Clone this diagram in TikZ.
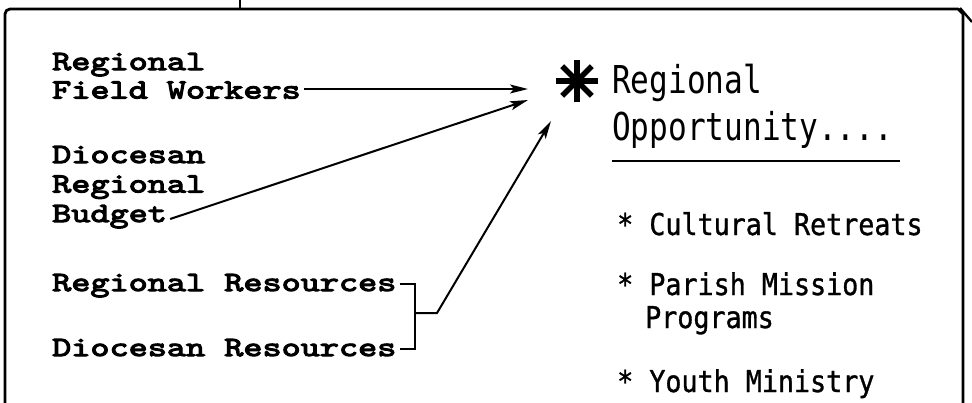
\documentclass[tikz,border=0pt]{standalone}
\usepackage{fontspec}
\usetikzlibrary{arrows.meta}
\newfontfamily\headfont{DejaVu Sans Mono}[FakeStretch=0.81]
\newfontfamily\itemfont{DejaVu Sans Mono}[FakeStretch=0.89, FakeBold=1]
\newfontfamily\slabfont{lmmono10-regular.otf}[FakeStretch=1.31, FakeBold=4]
\newcommand\lefttxt{\slabfont\fontsize{27.8}{30}\selectfont}
\tikzset{
  lbl/.style={anchor=base west, inner sep=0pt, font=\lefttxt},
  headtxt/.style={anchor=base west, inner sep=0pt, font=\headfont\fontsize{38.4}{40}\selectfont},
  itemtxt/.style={anchor=base west, inner sep=0pt, font=\itemfont\fontsize{30}{32}\selectfont},
  conn/.style={line width=2pt},
  arr/.style={conn, -{Stealth[length=18pt,width=9pt,inset=4pt]}},
  frameline/.style={line width=2.8pt, line join=round},
  starline/.style={line width=5.5pt}
}
\begin{document}
\begin{tikzpicture}[x=1pt,y=-1pt]
\useasboundingbox (0,0) rectangle (972,402);
% frame
\draw[frameline] (5,404) -- (5,14) arc[start angle=180,end angle=270,radius=5] -- (958,9) -- (963,14) -- (963,404);
\draw[frameline] (240,0) -- (240,9);
\draw[line width=2.4pt] (960,8) -- (972,22);
% left labels
\node[lbl] (reg1) at (52,70) {Regional};
\node[lbl] (fw)   at (52,98.5) {Field Workers};
\node[lbl] (dio)  at (52,163) {Diocesan};
\node[lbl] (reg2) at (52,192.5) {Regional};
\node[lbl] (bud)  at (52,222) {Budget};
\node[lbl] (rr)   at (52,291) {Regional Resources};
\node[lbl] (dr)   at (52,356) {Diocesan Resources};
% target star and texts
\coordinate (star) at (577,81);
\foreach \a in {0,45,90,135}
  \draw[starline] (star) ++(\a:21) -- ++(\a+180:42);
\node[headtxt] (hreg) at (612,93) {Regional};
\node[headtxt] (hopp) at (612,140) {Opportunity....};
\draw[line width=2pt] (hopp.base west |- 0,161) coordinate (ul1) -- (900,161) coordinate (ul2);
\node[itemtxt] (i1) at (617,235) {* Cultural Retreats};
\node[itemtxt] (i2) at (617,295) {* Parish Mission};
\node[itemtxt] (i2b) at (645,328) {Programs};
\node[itemtxt] (i3) at (617,392) {* Youth Ministry};
% arrow tips
\coordinate (tipA) at (528,89);
\coordinate (tipB) at (528,100);
\coordinate (tipC) at (551,121);
\coordinate (brk) at (415,313);
\coordinate (brkout) at (437,313);
% connectors
\draw[arr] ([xshift=3pt]fw.base east |- tipA) -- (tipA);
\draw[arr] ([xshift=3pt,yshift=3pt]bud.base east) -- (tipB);
\coordinate (rrend) at ([xshift=3pt,yshift=7pt]rr.base east);
\coordinate (drend) at ([xshift=3pt,yshift=7pt]dr.base east);
\draw[conn] (rrend) -- (rrend -| brk) -- (drend -| brk) -- (drend);
\draw[arr] (brk) -- (brkout) -- (tipC);
\end{tikzpicture}
\end{document}
